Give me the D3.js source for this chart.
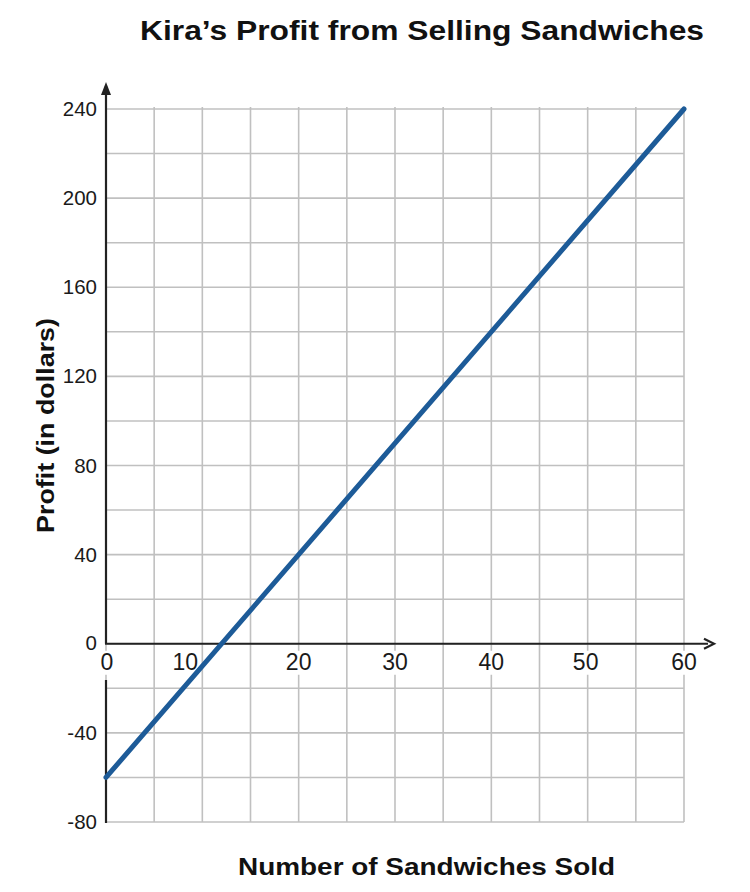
<!DOCTYPE html>
<html><head><meta charset="utf-8">
<script src="https://cdn.jsdelivr.net/npm/d3@7"></script>
<style>body{margin:0;background:#fff}svg{display:block}text{font-family:"Liberation Sans",Arial,Helvetica,sans-serif}</style>
</head><body>
<script>
const title = "Kira’s Profit from Selling Sandwiches";
const xTitle = "Number of Sandwiches Sold";
const yTitle = "Profit (in dollars)";
const xTicks = [0,10,20,30,40,50,60];
const yTicks = [-80,-40,0,40,80,120,160,200,240];
const xGrid = [0,5,10,15,20,25,30,35,40,45,50,55,60];
const yGrid = [-80,-60,-40,-20,0,20,40,60,80,100,120,140,160,180,200,220,240];
const sandwiches = [0,60];
const profit = [-60,240];

const W=750,H=892;
const svg=d3.select("body").append("svg").attr("width",W).attr("height",H);
const x=d3.scaleLinear().domain([0,60]).range([106,684]);
const y=d3.scaleLinear().domain([-80,240]).range([822,109]);
const gridC="#c0c0c0", axC="#222";

// grid
svg.append("g").selectAll("line").data(xGrid).join("line")
 .attr("x1",d=>x(d)).attr("x2",d=>x(d)).attr("y1",y(240)-2).attr("y2",y(-80))
 .attr("stroke",gridC).attr("stroke-width",1.6);
svg.append("g").selectAll("line").data(yGrid).join("line")
 .attr("x1",x(0)).attr("x2",x(60)).attr("y1",d=>y(d)).attr("y2",d=>y(d))
 .attr("stroke",gridC).attr("stroke-width",1.6);

// x tick labels with white background
const xl=svg.append("g");
xTicks.forEach(t=>{
  const dx = t===10 ? -17 : (t===0 ? 1 : (t===50 ? -2 : 0));
  const g=xl.append("g").attr("transform",`translate(${x(t)+dx},${y(0)+26})`);
  const tx=g.append("text").attr("text-anchor","middle").attr("font-size",23).attr("fill","#1a1a1a").text(t);
  const bb=tx.node().getBBox();
  g.insert("rect","text").attr("x",bb.x-1).attr("y",bb.y+2).attr("width",bb.width+2).attr("height",bb.height-2).attr("fill","#fff");
});

// axes
svg.append("line").attr("x1",x(0)).attr("x2",x(0)).attr("y1",y(0)).attr("y2",86).attr("stroke",axC).attr("stroke-width",2.2);
svg.append("path").attr("d",`M${x(0)-5},${95} L${x(0)},${82} L${x(0)+5},${95} Z`).attr("fill",axC);
svg.append("line").attr("x1",x(0)).attr("x2",x(0)).attr("y1",680).attr("y2",y(-80)+1).attr("stroke",axC).attr("stroke-width",2.2);
svg.append("line").attr("x1",x(0)-1).attr("x2",708).attr("y1",y(0)).attr("y2",y(0)).attr("stroke",axC).attr("stroke-width",2.2);
svg.append("path").attr("d",`M${704},${y(0)-5} L${714},${y(0)} L${704},${y(0)+5}`).attr("fill","none").attr("stroke",axC).attr("stroke-width",2.2);

// y tick labels
svg.append("g").selectAll("text").data(yTicks).join("text")
 .attr("x",97).attr("y",d=>y(d)+(d===0?6:7)).attr("text-anchor","end").attr("font-size",20.5).attr("fill","#1a1a1a").text(d=>d);

// data line
const line=d3.line().x(d=>x(d[0])).y(d=>y(d[1]));
svg.append("path").datum(d3.zip(sandwiches,profit)).attr("d",line)
 .attr("fill","none").attr("stroke","#1d5b98").attr("stroke-width",5).attr("stroke-linecap","round");

// titles
svg.append("text").attr("x",140).attr("y",40).attr("font-size",27).attr("font-weight","bold").attr("fill","#111")
 .attr("textLength",564).attr("lengthAdjust","spacingAndGlyphs").text(title);
svg.append("text").attr("x",238).attr("y",875).attr("font-size",24).attr("font-weight","bold").attr("fill","#111")
 .attr("textLength",377).attr("lengthAdjust","spacingAndGlyphs").text(xTitle);
svg.append("text").attr("transform","translate(54,533) rotate(-90)").attr("font-size",24).attr("font-weight","bold").attr("fill","#111")
 .attr("textLength",215).attr("lengthAdjust","spacingAndGlyphs").text(yTitle);
</script>
</body></html>
